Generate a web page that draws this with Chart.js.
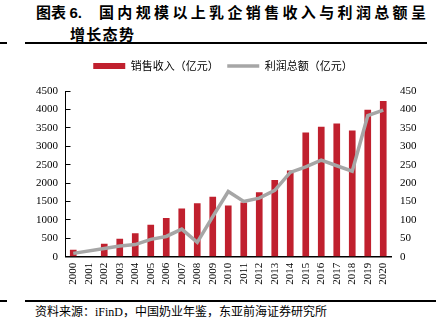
<!DOCTYPE html>
<html>
<head>
<meta charset="utf-8">
<script src="https://cdn.jsdelivr.net/npm/chart.js@4.4.1/dist/chart.umd.min.js"></script>
<style>
    body { margin: 0; background: #fff; }
    #page { position: relative; width: 436px; height: 331px; overflow: hidden; background: #fff; }
    .title { position: absolute; font-family: "Noto Sans CJK SC", sans-serif; font-weight: bold; font-size: 15px; line-height: 15px; color: #000; white-space: nowrap; }
    .num { font-family: "Liberation Sans", sans-serif; }
    .rule { position: absolute; height: 2px; background: #000; }
    #source { position: absolute; left: 35px; top: 304px; font-family: "Noto Sans CJK SC", sans-serif; font-size: 12px; line-height: 14px; color: #000; white-space: nowrap; }
    #source .latin { font-family: "Liberation Serif", serif; }
    #chartBox { position: absolute; left: 10px; top: 52px; width: 426px; height: 246px; }
</style>
</head>
<body>
<div id="page">
    <div class="title" style="left:36px; top:4px;">图表&nbsp;<span class="num">6.</span></div>
    <div class="title" style="left:99px; top:4px; letter-spacing:3.35px;">国内规模以上乳企销售收入与利润总额呈</div>
    <div class="title" style="left:70px; top:26px; letter-spacing:1.3px;">增长态势</div>
    <div class="rule" style="left:0; width:7px; top:42px;"></div>
    <div class="rule" style="left:25px; width:402px; top:42px;"></div>

    <div id="chartBox"><canvas id="growthChart" width="426" height="246"></canvas></div>

    <div class="rule" style="left:0; width:7px; top:300px;"></div>
    <div class="rule" style="left:25px; width:411px; top:300px;"></div>
    <div id="source">资料来源：<span class="latin">iFinD</span>，中国奶业年鉴，东亚前海证券研究所</div>
</div>

<script>
// 年份
const years = ['2000', '2001', '2002', '2003', '2004', '2005', '2006', '2007', '2008', '2009', '2010',
    '2011', '2012', '2013', '2014', '2015', '2016', '2017', '2018', '2019', '2020'];
// 销售收入（亿元），2001 年缺数据
const revenue = [190, null, 350, 490, 640, 870, 1050, 1310, 1450, 1630, 1390,
    1470, 1750, 2080, 2340, 3370, 3530, 3620, 3430, 3990, 4230];
// 利润总额（亿元）
const profit = [9, null, 22, 29, 33, 47, 55, 75, 39, 109, 177,
    150, 159, 180, 229, 244, 262, 247, 232, 383, 398];
// 坐标轴范围：最小值、最大值、步长
const leftTicks = [0, 4500, 500];
const rightTicks = [0, 450, 50];

const RED = '#C0202E';
const GREY = '#A6A6A6';
const tickFont = { family: '"Liberation Serif", "Times New Roman", serif', size: 11 };

// 图例和绘图区之间留出一点空隙
const legendGap = {
    id: 'legendGap',
    beforeInit(chart) {
        const fit = chart.legend.fit;
        chart.legend.fit = function () {
            fit.bind(chart.legend)();
            this.height += 9.5;
        };
    }
};

const ctx = document.getElementById('growthChart');
const growthChart = new Chart(ctx, {
    type: 'bar',
    data: {
        labels: years,
        datasets: [{
            type: 'bar',
            label: '销售收入（亿元）',
            data: revenue,
            backgroundColor: RED,
            borderWidth: 0,
            yAxisID: 'y',
            categoryPercentage: 1,
            barPercentage: 0.43,
            order: 2
        }, {
            type: 'line',
            label: '利润总额（亿元）',
            data: profit,
            borderColor: GREY,
            backgroundColor: GREY,
            borderWidth: 3.5,
            pointRadius: 0,
            tension: 0,
            spanGaps: true,
            yAxisID: 'y1',
            order: 1
        }]
    },
    options: {
        responsive: false,
        animation: false,
        layout: { padding: 0 },
        plugins: {
            tooltip: { enabled: false },
            legend: {
                position: 'top',
                labels: {
                    usePointStyle: true,
                    pointStyleWidth: 32,
                    boxHeight: 6,
                    padding: 8.5,
                    color: '#000',
                    font: { family: '"Noto Sans CJK SC", sans-serif', size: 11 },
                    generateLabels(chart) {
                        return chart.data.datasets.map((ds, i) => ({
                            text: ds.label,
                            datasetIndex: i,
                            pointStyle: ds.type === 'line' ? 'line' : 'rect',
                            fillStyle: ds.type === 'line' ? GREY : RED,
                            strokeStyle: ds.type === 'line' ? GREY : RED,
                            lineWidth: ds.type === 'line' ? 3.5 : 0,
                            fontColor: '#000'
                        }));
                    }
                }
            }
        },
        scales: {
            x: {
                grid: { display: false, drawTicks: false },
                border: { display: true, color: '#000', width: 1.5 },
                ticks: {
                    autoSkip: false,
                    minRotation: 90,
                    maxRotation: 90,
                    padding: 6,
                    color: '#000',
                    font: tickFont
                },
                afterFit(scale) { scale.height = 41.3; }
            },
            y: {
                position: 'left',
                min: leftTicks[0],
                max: leftTicks[1],
                grid: { display: true, drawOnChartArea: false, drawTicks: true, tickLength: -5, color: '#000' },
                border: { display: true, color: '#000', width: 1 },
                ticks: {
                    stepSize: leftTicks[2],
                    padding: 12.5,
                    color: '#000',
                    font: tickFont,
                    callback: v => String(v)
                },
                afterFit(scale) { scale.width = 55.5; }
            },
            y1: {
                position: 'right',
                min: rightTicks[0],
                max: rightTicks[1],
                grid: { display: false, drawTicks: false },
                border: { display: false },
                ticks: {
                    stepSize: rightTicks[2],
                    padding: 9,
                    color: '#000',
                    font: tickFont,
                    callback: v => String(v)
                },
                afterFit(scale) { scale.width = 45; }
            }
        }
    },
    plugins: [legendGap]
});
</script>
</body>
</html>
